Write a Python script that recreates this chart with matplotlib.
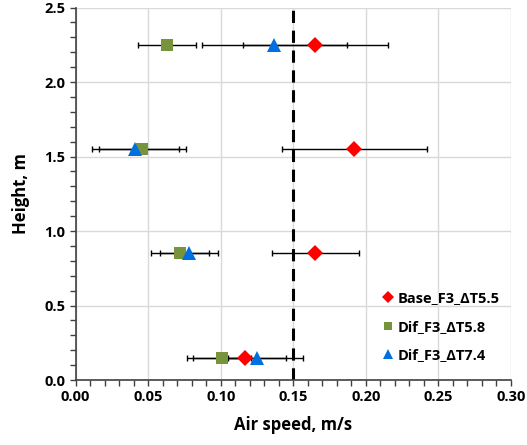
import matplotlib
matplotlib.use("Agg")
import matplotlib.pyplot as plt
from matplotlib.ticker import MultipleLocator

heights = [2.25, 1.55, 0.85, 0.15]
base_speed = [0.165, 0.192, 0.165, 0.117]
base_err = [0.05, 0.05, 0.03, 0.04]
dif58_speed = [0.063, 0.046, 0.072, 0.101]
dif58_err = [0.02, 0.03, 0.02, 0.02]
dif74_speed = [0.137, 0.041, 0.078, 0.125]
dif74_err = [0.05, 0.03, 0.02, 0.02]
labels = ["Base_F3_ΔT5.5", "Dif_F3_ΔT5.8", "Dif_F3_ΔT7.4"]
threshold = 0.15

plt.rcParams['font.family'] = ['Open Sans', 'DejaVu Sans']
plt.rcParams['font.weight'] = 'bold'

fig = plt.figure(figsize=(5.27, 4.45), dpi=100)
ax = fig.add_axes([0.1436, 0.146, 0.826, 0.837])

ax.set_xlim(0, 0.30)
ax.set_ylim(0, 2.5)
ax.xaxis.set_major_locator(MultipleLocator(0.05))
ax.xaxis.set_minor_locator(MultipleLocator(0.01))
ax.yaxis.set_major_locator(MultipleLocator(0.5))
ax.yaxis.set_minor_locator(MultipleLocator(0.1))
ax.grid(True, which='major', color='#D9D9D9', linewidth=1.0, zorder=0)
ax.set_axisbelow(True)

for s in ['top', 'right']:
    ax.spines[s].set_visible(False)
for s in ['left', 'bottom']:
    ax.spines[s].set_color('#404040')
    ax.spines[s].set_linewidth(1.2)
ax.tick_params(which='both', direction='out', length=4, width=1.0, color='#404040',
               labelsize=10.5)
ax.xaxis.set_major_formatter(plt.FormatStrFormatter('%.2f'))
ax.yaxis.set_major_formatter(plt.FormatStrFormatter('%.1f'))
for t in ax.get_xticklabels() + ax.get_yticklabels():
    t.set_fontweight('bold')

ax.axvline(threshold, color='black', linewidth=2.2, linestyle=(0, (4, 2.5)), zorder=2)

series = [
    (base_speed, base_err, 'D', '#FF0000', 8.5),
    (dif58_speed, dif58_err, 's', '#77933C', 9),
    (dif74_speed, dif74_err, '^', '#0070E0', 9.5),
]
handles = []
for (sp, er, m, c, ms), lab in zip(series, labels):
    ax.errorbar(sp, heights, xerr=er, fmt='none', ecolor='black', elinewidth=1.0,
                capsize=2.5, capthick=1.0, zorder=3)
for (sp, er, m, c, ms), lab in zip(series, labels):
    h, = ax.plot(sp, heights, linestyle='none', marker=m, color=c, markersize=ms,
                 markeredgewidth=0, label=lab, zorder=4)
    handles.append(h)

leg = ax.legend(handles=handles, loc='lower left', bbox_to_anchor=(0.675, 0.012),
                frameon=False, markerscale=0.7, handlelength=0.8, handletextpad=0.2,
                labelspacing=1.0, prop={'weight': 'bold', 'size': 10.5})

ax.set_xlabel('Air speed, m/s', fontsize=12, fontweight='bold', labelpad=8)
ax.set_ylabel('Height, m', fontsize=12, fontweight='bold', labelpad=10)

fig.savefig('out.png', dpi=100)
